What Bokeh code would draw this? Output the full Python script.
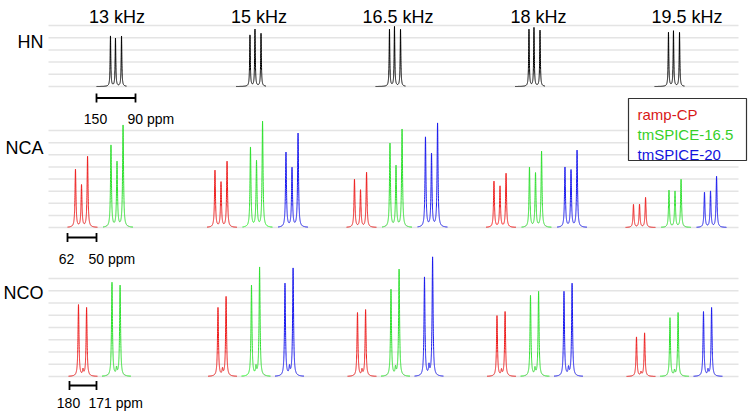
import numpy as np
from bokeh.plotting import figure
from bokeh.models import Range1d
from bokeh.embed import file_html
from bokeh.resources import INLINE
from bokeh.core.properties import value

# ---------------- data ----------------
speeds = ["13 kHz", "15 kHz", "16.5 kHz", "18 kHz", "19.5 kHz"]
rows = ["HN", "NCA", "NCO"]
methods = ["ramp-CP", "tmSPICE-16.5", "tmSPICE-20"]

# HN: peak positions (ppm) and intensities (grid divisions) per spinning speed
hn_ppm = [128.5, 120.8, 111.5]
hn_int = [[4.12, 3.93, 4.12],
          [4.20, 4.67, 4.34],
          [4.67, 4.88, 4.67],
          [4.67, 4.80, 4.60],
          [4.42, 4.53, 4.42]]

# NCA
nca_ppm = [58.7, 56.2, 53.7]
nca_ramp = [[4.77, 3.46, 5.84],
            [4.69, 3.70, 5.43],
            [3.95, 3.05, 4.53],
            [3.79, 3.37, 4.44],
            [1.89, 1.89, 2.47]]
nca_t165 = [[6.75, 5.35, 8.40],
            [6.58, 5.43, 8.72],
            [6.91, 5.02, 8.07],
            [4.94, 4.44, 6.26],
            [3.05, 2.96, 3.95]]
nca_t20 = [None,
           [6.17, 4.86, 7.74],
           [7.41, 6.01, 8.56],
           [4.94, 4.69, 6.34],
           [2.88, 2.96, 4.20]]

# NCO (two main lines plus a weak middle line)
nco_ppm = [177.0, 175.5, 174.3]
nco_ramp = [[5.84, 0.45, 5.60],
            [5.60, 0.50, 6.50],
            [5.19, 0.45, 5.43],
            [4.94, 0.45, 5.27],
            [3.21, 0.30, 3.54]]
nco_t165 = [[7.65, 0.55, 7.41],
            [7.41, 0.65, 8.89],
            [7.08, 0.60, 8.72],
            [6.58, 0.55, 6.91],
            [4.77, 0.40, 5.19]]
nco_t20 = [None,
           [7.57, 0.65, 8.81],
           [8.07, 0.75, 9.71],
           [6.91, 0.60, 7.57],
           [5.27, 0.45, 5.60]]

# scale bars (ppm)
hn_bar = [150, 90]
nca_bar = [62, 50]
nco_bar = [180, 171]

# ---------------- layout / style ----------------
FONT = value("Liberation Sans")
COL_STEP = 139.5
colors = ["#ee1b1b", "#2ee02e", "#1919ee"]
text_colors = ["#d81818", "#36cf2a", "#1414dd"]
GRID_X = (48, 738)

cfg = {
    "HN":  dict(base=86.0, step=12.2, ngrid=6, x0=96.0, win=(150.0, 103.8), ppx=0.65,
                sstep=0.0, gamma=0.6, bar=hn_bar, bar_y=97.5, lab_y=118.5,
                label_y=41.5, peaks=hn_ppm, data=[hn_int]),
    "NCA": dict(base=227.0, step=12.125, ngrid=9, x0=67.0, win=(62.0, 49.6), ppx=2.417,
                sstep=35.5, gamma=0.23, bar=nca_bar, bar_y=237.0, lab_y=258.5,
                label_y=147.0, peaks=nca_ppm, data=[nca_ramp, nca_t165, nca_t20]),
    "NCO": dict(base=376.0, step=12.25, ngrid=9, x0=68.0, win=(180.33, 170.67), ppx=3.0,
                sstep=33.5, gamma=0.19, bar=nco_bar, bar_y=385.0, lab_y=402.5,
                label_y=292.0, peaks=nco_ppm, data=[nco_ramp, nco_t165, nco_t20]),
}
title_x = [116.5, 258.5, 397.5, 538.0, 686.5]

p = figure(width=750, height=412, x_range=Range1d(0, 750), y_range=Range1d(412, 0),
           output_backend="svg", toolbar_location=None, min_border=0,
           x_axis_location=None, y_axis_location=None)
p.xgrid.visible = False
p.ygrid.visible = False
p.outline_line_color = None
p.background_fill_color = "white"
p.border_fill_color = "white"

# grid lines
gxs, gys = [], []
for r in rows:
    c = cfg[r]
    for k in range(c["ngrid"]):
        yy = c["base"] - k * c["step"]
        gxs.append(list(GRID_X))
        gys.append([yy, yy])
p.multi_line(xs=gxs, ys=gys, line_color="#e4e4e4", line_width=1.5)


def to_x(c, col, s, ppm):
    return c["x0"] + col * COL_STEP + s * c["sstep"] + (c["win"][0] - np.asarray(ppm)) * c["ppx"]


# spectra
for r in rows:
    c = cfg[r]
    g = c["gamma"]
    ppm = np.linspace(c["win"][0], c["win"][1], 900)
    for s, series in enumerate(c["data"]):
        xs, ys = [], []
        for col, heights in enumerate(series):
            if heights is None:
                continue
            inten = np.zeros_like(ppm)
            for p0, h in zip(c["peaks"], heights):
                inten += h * g ** 2 / (g ** 2 + (ppm - p0) ** 2)
            xs.append(list(to_x(c, col, s, ppm)))
            ys.append(list(c["base"] - inten * c["step"]))
        color = "black" if r == "HN" else colors[s]
        p.multi_line(xs=xs, ys=ys, line_color=color, line_width=1.0)

# scale bars
for r in rows:
    c = cfg[r]
    xa = float(to_x(c, 0, 0, c["bar"][0]))
    xb = float(to_x(c, 0, 0, c["bar"][1]))
    yb = c["bar_y"]
    p.multi_line(xs=[[xa, xb], [xa, xa], [xb, xb]],
                 ys=[[yb, yb], [yb - 4.5, yb + 4.5], [yb - 4.5, yb + 4.5]],
                 line_color="black", line_width=1.8)
    p.text(x=[xa - 1], y=[c["lab_y"]], text=[str(c["bar"][0])], text_font=FONT,
           text_font_size="14px", text_align="center", text_baseline="alphabetic",
           text_color="black")
    p.text(x=[xb - 8], y=[c["lab_y"]], text=[f"{c['bar'][1]} ppm"], text_font=FONT,
           text_font_size="14px", text_align="left", text_baseline="alphabetic",
           text_color="black")

# row labels
p.text(x=[43] * 3, y=[cfg[r]["label_y"] for r in rows], text=rows, text_font=FONT,
       text_font_size="18px", text_align="right", text_baseline="alphabetic",
       text_color="black")

# column titles
p.text(x=title_x, y=[16.5] * len(speeds), text=speeds, text_font=FONT,
       text_font_size="18px", text_align="center", text_baseline="alphabetic",
       text_color="black")

# legend box
p.quad(left=[628], right=[746], top=[98], bottom=[160], fill_color="white",
       line_color="#333333", line_width=1.2)
p.text(x=[637] * 3, y=[114, 134, 154], text=methods, text_font=FONT,
       text_font_size="15px", text_align="left", text_baseline="alphabetic",
       text_color=text_colors)

open("out.html", "w").write(file_html(p, INLINE))
